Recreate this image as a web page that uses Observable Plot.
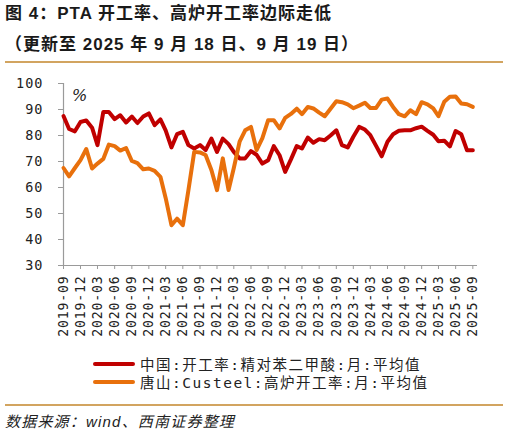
<!DOCTYPE html>
<html>
<head>
<meta charset="utf-8">
<script src="https://cdn.jsdelivr.net/npm/d3@7"></script>
<script src="https://cdn.jsdelivr.net/npm/@observablehq/plot@0.6"></script>
<style>
  html, body { margin: 0; padding: 0; background: #fff; }
  #wrap { position: relative; width: 508px; height: 436px; overflow: hidden; background: #fff; }
  .t { position: absolute; left: 5px; white-space: nowrap; color: #1a1a1a;
       font-family: "Liberation Sans", "Noto Sans CJK SC", sans-serif; font-weight: bold;
       font-size: 17px; letter-spacing: 1px; line-height: 20px; }
  .rule { position: absolute; left: 5px; width: 498px; height: 2px; background: #d2a460; }
  #chart { position: absolute; left: 0; top: 65px; }
  #pct { position: absolute; left: 72px; top: 86px; font-family: "DejaVu Serif", serif; font-style: italic; font-size: 16px; color: #222; }
  .leg { position: absolute; left: 93px; display: flex; align-items: center; height: 17.5px;
         font-family: "DejaVu Sans Mono", "Noto Sans CJK SC", monospace; font-size: 14.5px; letter-spacing: 1.5px; color: #222; white-space: nowrap; }
  .leg span.sw { display: inline-block; width: 42px; height: 4px; border-radius: 2px; margin-right: 5px; }
  #src { position: absolute; left: 5px; top: 410px; font-family: "Liberation Sans", "Noto Sans CJK SC", sans-serif; font-style: italic; font-size: 15px; letter-spacing: 1.2px; color: #222; white-space: nowrap; }
  #chart g[aria-label="y-axis tick label"] text { letter-spacing: 1px; }
  #chart g[aria-label="x-axis tick label"] text { letter-spacing: 0.8px; }
</style>
</head>
<body>
<div id="wrap">
  <div class="t" style="top:4px">图 4：PTA 开工率、高炉开工率边际走低</div>
  <div class="t" style="top:35px">（更新至 2025 年 9 月 18 日、9 月 19 日）</div>
  <div class="rule" style="top:61px"></div>
  <div id="chart"></div>
  <div id="pct">%</div>
  <div class="leg" style="top:355px"><span class="sw" id="sw1"></span><span id="lab1"></span></div>
  <div class="leg" style="top:373px"><span class="sw" id="sw2"></span><span id="lab2"></span></div>
  <div class="rule" style="top:404px; height:2px;"></div>
  <div id="src">数据来源：wind、西南证券整理</div>
</div>
<script>
// Series names and colours
const seriesNames = ["中国:开工率:精对苯二甲酸:月:平均值", "唐山:Custeel:高炉开工率:月:平均值"];
const seriesColors = ["#c00000", "#e8700c"];

// Monthly observations, 2019-09 ... 2025-09
const months = d3.utcMonth.range(new Date("2019-09-01T00:00:00Z"), new Date("2025-10-01T00:00:00Z"));

// PTA operating rate (%)
const ptaRate = [
  87.5, 82.5, 81.6, 85.2, 85.8, 83.0, 76.3, 89.0, 89.0, 86.3,
  87.8, 85.0, 87.3, 84.8, 87.3, 88.5, 84.0, 86.2, 82.0, 75.4,
  80.5, 81.4, 76.3, 75.0, 76.3, 74.4, 78.8, 73.7, 78.8, 76.7,
  73.7, 71.2, 71.2, 74.0, 72.6, 69.2, 70.5, 75.9, 72.4, 66.0,
  70.8, 75.9, 75.0, 79.2, 77.2, 78.6, 78.2, 80.0, 82.0, 76.3,
  75.4, 79.5, 83.3, 82.3, 80.1, 76.0, 72.0, 77.6, 80.5, 81.8,
  82.0, 82.0, 82.8, 83.4, 81.8, 80.3, 77.8, 78.0, 75.8, 81.7,
  80.5, 74.3, 74.3
];

// Tangshan blast furnace operating rate (%)
const bfRate = [
  67.5, 64.3, 67.5, 70.5, 74.8, 67.3, 69.2, 71.0, 76.5, 75.9,
  74.2, 75.2, 70.2, 69.4, 67.0, 67.3, 66.4, 64.1, 56.0, 45.5,
  48.0, 45.5, 59.0, 73.7, 73.5, 72.5, 66.7, 59.0, 71.2, 59.0,
  67.5, 77.6, 82.0, 83.3, 74.4, 79.0, 85.9, 85.9, 82.7, 86.8,
  88.3, 90.3, 88.2, 91.0, 90.4, 88.8, 87.4, 90.3, 93.2, 92.8,
  92.0, 90.5, 91.5, 92.6, 90.6, 90.6, 93.8, 94.2, 91.0, 88.2,
  87.4, 89.7, 88.2, 92.8, 92.0, 90.4, 87.4, 93.0, 94.9, 95.0,
  92.3, 92.0, 91.0
];

// Axis ticks
const yTicks = [30, 40, 50, 60, 70, 80, 90, 100];
const xTickLabels = [
  "2019-09","2019-12","2020-03","2020-06","2020-09","2020-12","2021-03","2021-06","2021-09",
  "2021-12","2022-03","2022-06","2022-09","2022-12","2023-03","2023-06","2023-09","2023-12",
  "2024-03","2024-06","2024-09","2024-12","2025-03","2025-06","2025-09"
];
const xTicks = xTickLabels.map(s => new Date(s + "-01T00:00:00Z"));

const redData = months.map((d, i) => ({date: d, value: ptaRate[i]}));
const orangeData = months.map((d, i) => ({date: d, value: bfRate[i]}));

const chart = Plot.plot({
  width: 508,
  height: 285,
  marginTop: 18,
  marginBottom: 85,
  marginLeft: 63,
  marginRight: 31,
  style: {fontFamily: '"DejaVu Sans Mono", monospace', fontSize: "12px", color: "#222", background: "transparent", overflow: "visible"},
  x: {type: "utc", domain: [new Date("2019-09-01T00:00:00Z"), new Date("2025-09-26T00:00:00Z")]},
  y: {domain: [30, 100]},
  marks: [
    Plot.ruleY([30], {stroke: "#9a9a9a", strokeWidth: 1.2}),
    Plot.ruleX([months[0]], {y1: 30, y2: 100, stroke: "#9a9a9a", strokeWidth: 1.2}),
    Plot.axisY({ticks: yTicks, tickSize: 5, tickPadding: 15, stroke: "#9a9a9a", strokeOpacity: 1, fill: "#222", fontSize: 13.5, label: null}),
    Plot.axisX({ticks: xTicks, tickFormat: (d, i) => xTickLabels[i], tickRotate: -90, tickSize: 4, tickPadding: 6, stroke: "#9a9a9a", strokeOpacity: 1, fill: "#222", fontSize: 13.2, label: null}),
    Plot.lineY(redData, {x: "date", y: "value", stroke: seriesColors[0], strokeWidth: 4, strokeLinejoin: "round", strokeLinecap: "round"}),
    Plot.lineY(orangeData, {x: "date", y: "value", stroke: seriesColors[1], strokeWidth: 4, strokeLinejoin: "round", strokeLinecap: "round"})
  ]
});
document.getElementById("chart").append(chart);

document.getElementById("sw1").style.background = seriesColors[0];
document.getElementById("sw2").style.background = seriesColors[1];
document.getElementById("lab1").textContent = seriesNames[0];
document.getElementById("lab2").textContent = seriesNames[1];
</script>
</body>
</html>
